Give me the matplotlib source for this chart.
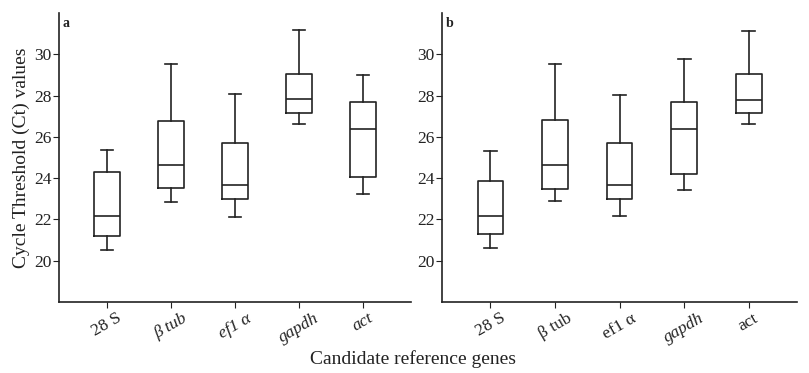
import matplotlib.pyplot as plt

plt.rcParams['font.family'] = ['Liberation Serif', 'DejaVu Serif']

# gene labels
genes = ['28 S', 'β tub', 'ef1 α', 'gapdh', 'act']

# panel a: lower whisker, Q1, median, Q3, upper whisker
a_low = [20.52, 22.86, 22.14, 26.62, 23.22]
a_q1 = [21.2, 23.5, 22.99, 27.15, 24.06]
a_med = [22.17, 24.66, 23.69, 27.82, 26.38]
a_q3 = [24.3, 26.78, 25.68, 29.06, 27.69]
a_high = [25.36, 29.55, 28.07, 31.18, 29.0]

# panel b (gapdh and act swapped)
b_low = [20.61, 22.88, 22.15, 23.44, 26.61]
b_q1 = [21.29, 23.49, 22.97, 24.2, 27.14]
b_med = [22.19, 24.66, 23.67, 26.37, 27.78]
b_q3 = [23.87, 26.82, 25.71, 27.68, 29.05]
b_high = [25.32, 29.52, 28.01, 29.77, 31.14]

a_italic = [False, True, True, True, True]
b_italic = [False, False, False, True, False]

col = '#222222'


def draw_panel(ax, low, q1, med, q3, high, italic, tag):
    stats = []
    for i in range(len(genes)):
        stats.append({'whislo': low[i], 'q1': q1[i], 'med': med[i],
                      'q3': q3[i], 'whishi': high[i], 'fliers': []})
    ax.bxp(stats, positions=range(len(genes)), widths=0.4, showfliers=False,
           boxprops=dict(color=col, linewidth=1.2),
           medianprops=dict(color=col, linewidth=1.2),
           whiskerprops=dict(color=col, linewidth=1.2),
           capprops=dict(color=col, linewidth=1.2))
    ax.set_xlim(-0.75, 4.75)
    ax.set_ylim(18, 32)
    ax.set_yticks([20, 22, 24, 26, 28, 30])
    ax.set_xticks(range(len(genes)))
    ax.set_xticklabels(genes, rotation=30, ha='center', va='top', fontsize=12.5)
    for lab, it in zip(ax.get_xticklabels(), italic):
        if it:
            lab.set_style('italic')
    ax.tick_params(axis='y', labelsize=12.5, length=4, pad=1.5,
                   color=col, labelcolor=col)
    ax.tick_params(axis='x', length=4, pad=2, color=col, labelcolor=col)
    for s in ['top', 'right']:
        ax.spines[s].set_visible(False)
    for s in ['left', 'bottom']:
        ax.spines[s].set_color(col)
        ax.spines[s].set_linewidth(1.2)
    ax.text(0.01, 0.985, tag, transform=ax.transAxes, fontsize=10,
            fontweight='bold', va='top', ha='left', color=col)


fig = plt.figure(figsize=(8.09, 3.73), dpi=100)
ax1 = fig.add_axes([0.0729, 0.1903, 0.435, 0.775])
ax2 = fig.add_axes([0.5464, 0.1903, 0.4388, 0.775])

draw_panel(ax1, a_low, a_q1, a_med, a_q3, a_high, a_italic, 'a')
draw_panel(ax2, b_low, b_q1, b_med, b_q3, b_high, b_italic, 'b')

ax1.set_ylabel('Cycle Threshold (Ct) values', fontsize=14, color=col,
               labelpad=3)
fig.text(0.511, 0.037, 'Candidate reference genes', fontsize=14,
         ha='center', va='center', color=col)

fig.savefig('out.png', dpi=100)
